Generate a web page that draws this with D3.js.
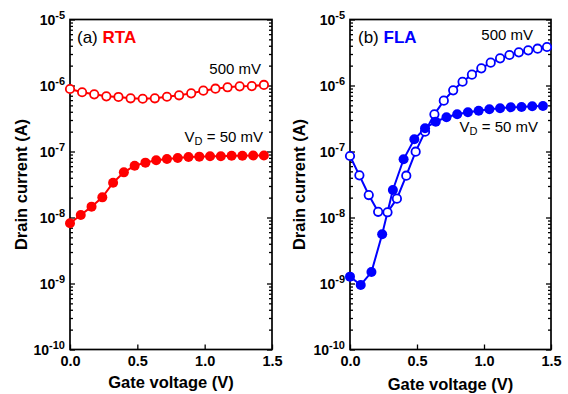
<!DOCTYPE html>
<html><head><meta charset="utf-8">
<script src="https://cdn.jsdelivr.net/npm/d3@7"></script>
<style>
body{margin:0;background:#fff}
svg{display:block}
text{font-family:"Liberation Sans",Arial,Helvetica,sans-serif}
</style>
</head><body>
<svg id="c" width="568" height="394"></svg>
<script>
// ---- data ----
const xTicks = [0.0, 0.5, 1.0, 1.5];
const xTickLabels = ["0.0", "0.5", "1.0", "1.5"];
const yDecades = [1e-5, 1e-6, 1e-7, 1e-8, 1e-9, 1e-10];
const yDecadeExp = ["-5", "-6", "-7", "-8", "-9", "-10"];

const rtaX500 = [0, 0.09, 0.18, 0.27, 0.36, 0.45, 0.54, 0.63, 0.72, 0.81, 0.90, 0.99, 1.08, 1.17, 1.26, 1.35, 1.44];
const rtaI500 = [8.85e-7, 7.9e-7, 7.35e-7, 6.85e-7, 6.7e-7, 6.4e-7, 6.3e-7, 6.4e-7, 6.75e-7, 7.1e-7, 7.6e-7, 8.35e-7, 8.95e-7, 9.4e-7, 9.7e-7, 9.8e-7, 1.02e-6];
const rtaX50 = [0, 0.08, 0.16, 0.24, 0.32, 0.40, 0.48, 0.56, 0.64, 0.72, 0.80, 0.88, 0.96, 1.04, 1.12, 1.20, 1.28, 1.36, 1.44];
const rtaI50 = [8.2e-9, 1.09e-8, 1.46e-8, 2.02e-8, 3.37e-8, 4.83e-8, 6.1e-8, 6.78e-8, 7.35e-8, 7.7e-8, 7.98e-8, 8.27e-8, 8.36e-8, 8.45e-8, 8.45e-8, 8.6e-8, 8.6e-8, 8.7e-8, 8.7e-8];

const flaX500 = [0, 0.07, 0.14, 0.21, 0.28, 0.35, 0.42, 0.49, 0.56, 0.63, 0.70, 0.77, 0.84, 0.91, 0.98, 1.05, 1.12, 1.19, 1.26, 1.33, 1.40, 1.47];
const flaI500 = [8.55e-8, 4.35e-8, 2.19e-8, 1.22e-8, 1.2e-8, 1.93e-8, 4.3e-8, 9.93e-8, 2.0e-7, 3.66e-7, 5.89e-7, 8.45e-7, 1.14e-6, 1.46e-6, 1.82e-6, 2.22e-6, 2.58e-6, 2.9e-6, 3.18e-6, 3.41e-6, 3.61e-6, 3.83e-6];
const flaX50 = [0, 0.08, 0.16, 0.24, 0.32, 0.40, 0.48, 0.56, 0.64, 0.72, 0.80, 0.88, 0.96, 1.04, 1.12, 1.20, 1.28, 1.36, 1.44];
const flaI50 = [1.27e-9, 9.5e-10, 1.49e-9, 5.56e-9, 2.61e-8, 7.62e-8, 1.53e-7, 2.25e-7, 2.83e-7, 3.3e-7, 3.66e-7, 3.93e-7, 4.15e-7, 4.36e-7, 4.51e-7, 4.68e-7, 4.72e-7, 4.84e-7, 4.89e-7];

const RED = "#ff0000", BLUE = "#0000ff";

const panels = [
  {x0: 70, x1: 272, tag: "(a) ", name: "RTA", color: RED,
   hi: {x: rtaX500, y: rtaI500}, lo: {x: rtaX50, y: rtaI50},
   tagX: 77, tagY: 43, hiLbl: [261, 74], loLbl: [263, 141.5], yTitleX: 27, xTitleY: 388},
  {x0: 350, x1: 551, tag: "(b) ", name: "FLA", color: BLUE,
   hi: {x: flaX500, y: flaI500}, lo: {x: flaX50, y: flaI50},
   tagX: 358, tagY: 43, hiLbl: [533, 40], loLbl: [538, 131.5], yTitleX: 305, xTitleY: 390}
];

const svg = d3.select("#c");
const yTop = 19.5, yBot = 349.5;

const minors = [];
for (let e = -10; e < -5; e++) for (let m = 2; m <= 9; m++) minors.push(m * Math.pow(10, e));

panels.forEach(p => {
  const x = d3.scaleLinear().domain([0, 1.5]).range([p.x0, p.x1]);
  const y = d3.scaleLog().domain([1e-10, 1e-5]).range([yBot, yTop]);
  const g = svg.append("g");

  // left axis major & minor ticks (inside)
  const la = g.append("g").attr("transform", `translate(${p.x0},0)`)
    .call(d3.axisLeft(y).tickValues(yDecades).tickSize(-5).tickSizeOuter(0).tickFormat(""));
  const lm = g.append("g").attr("transform", `translate(${p.x0},0)`)
    .call(d3.axisLeft(y).tickValues(minors).tickSize(-3).tickSizeOuter(0).tickFormat(""));
  const ra = g.append("g").attr("transform", `translate(${p.x1},0)`)
    .call(d3.axisRight(y).tickValues(yDecades).tickSize(-5).tickSizeOuter(0).tickFormat(""));
  const rm = g.append("g").attr("transform", `translate(${p.x1},0)`)
    .call(d3.axisRight(y).tickValues(minors).tickSize(-3).tickSizeOuter(0).tickFormat(""));
  const ba = g.append("g").attr("transform", `translate(0,${yBot})`)
    .call(d3.axisBottom(x).tickValues(xTicks).tickSize(-5).tickSizeOuter(0).tickPadding(6.7)
      .tickFormat((d, i) => xTickLabels[i]));
  [la, lm, ra, rm, ba].forEach(a => {
    a.select(".domain").remove();
    a.selectAll("line").attr("stroke", "#000").attr("stroke-width", 1.3);
  });
  ba.selectAll("text").attr("font-size", "14.5px").attr("font-weight", "bold").attr("fill", "#000")
    .style("font-family", '"Liberation Sans",Arial,sans-serif');

  // y decade labels with superscripts
  yDecades.forEach((d, i) => {
    const t = g.append("text").attr("x", p.x0 - 5).attr("y", y(d) + 5.5)
      .attr("text-anchor", "end").attr("font-weight", "bold").attr("font-size", "14px");
    t.append("tspan").text("10");
    t.append("tspan").attr("font-size", "11px").attr("dy", -6.5).text(yDecadeExp[i]);
  });

  // frame
  g.append("rect").attr("x", p.x0).attr("y", yTop).attr("width", p.x1 - p.x0).attr("height", yBot - yTop)
    .attr("fill", "none").attr("stroke", "#000").attr("stroke-width", 1.7);

  // titles
  g.append("text").attr("x", (p.x0 + p.x1) / 2).attr("y", p.xTitleY).attr("text-anchor", "middle")
    .attr("font-weight", "bold").attr("font-size", "16.5px").text("Gate voltage (V)");
  g.append("text").attr("transform", `translate(${p.yTitleX},${(yTop + yBot) / 2}) rotate(-90)`)
    .attr("text-anchor", "middle").attr("font-weight", "bold").attr("font-size", "16.5px").text("Drain current (A)");

  // data
  const line = d3.line().x(d => x(d[0])).y(d => y(d[1]));
  const hi = p.hi.x.map((v, i) => [v, p.hi.y[i]]);
  const lo = p.lo.x.map((v, i) => [v, p.lo.y[i]]);
  g.append("path").datum(hi).attr("d", line).attr("fill", "none").attr("stroke", p.color).attr("stroke-width", 2);
  g.append("path").datum(lo).attr("d", line).attr("fill", "none").attr("stroke", p.color).attr("stroke-width", 2);
  g.selectAll(".hi").data(hi).enter().append("circle")
    .attr("cx", d => x(d[0])).attr("cy", d => y(d[1])).attr("r", 4.2)
    .attr("fill", "#fff").attr("stroke", p.color).attr("stroke-width", 1.8);
  g.selectAll(".lo").data(lo).enter().append("circle")
    .attr("cx", d => x(d[0])).attr("cy", d => y(d[1])).attr("r", 5)
    .attr("fill", p.color);

  // annotations
  const tg = g.append("text").attr("x", p.tagX).attr("y", p.tagY).attr("font-size", "17px");
  tg.append("tspan").text(p.tag);
  tg.append("tspan").attr("font-weight", "bold").attr("fill", p.color).text(p.name);

  g.append("text").attr("x", p.hiLbl[0]).attr("y", p.hiLbl[1]).attr("text-anchor", "end")
    .attr("font-size", "15px").text("500 mV");
  const vl = g.append("text").attr("x", p.loLbl[0]).attr("y", p.loLbl[1]).attr("text-anchor", "end")
    .attr("font-size", "15px");
  vl.append("tspan").text("V");
  vl.append("tspan").attr("font-size", "11px").attr("dy", 3.5).text("D");
  vl.append("tspan").attr("dy", -3.5).text(" = 50 mV");
});
</script>
</body></html>
